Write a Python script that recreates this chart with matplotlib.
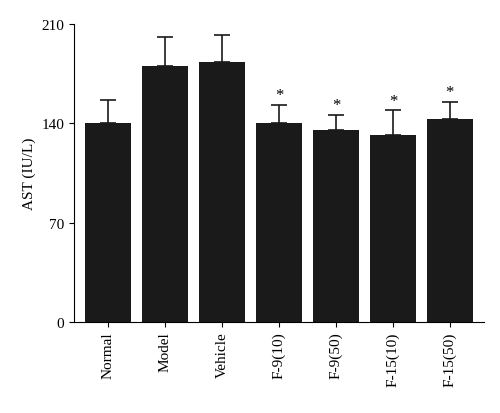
import matplotlib.pyplot as plt
import numpy as np

plt.rcParams['font.family'] = ['Liberation Serif', 'DejaVu Serif']

groups = ["Normal", "Model", "Vehicle", "F-9(10)", "F-9(50)", "F-15(10)", "F-15(50)"]
ast_mean = [140, 180, 183, 140, 135, 132, 143]
ast_err = [16, 21, 19, 13, 11, 17, 12]
significant = [False, False, False, True, True, True, True]

fig = plt.figure(figsize=(5.0, 4.14), dpi=100)
ax = fig.add_axes([0.148, 0.22, 0.82, 0.72])

x = np.arange(len(groups))
ax.bar(x, ast_mean, width=0.8, color="#1a1a1a", yerr=[np.zeros(len(x)), ast_err],
       error_kw=dict(ecolor="#1a1a1a", elinewidth=1.2, capsize=6, capthick=1.2))
for xi, m, e, s in zip(x, ast_mean, ast_err, significant):
    if s:
        ax.text(xi, m + e + 1, "*", ha="center", va="bottom", fontsize=12)

ax.set_xlim(-0.6, len(groups) - 0.4)
ax.set_ylim(0, 210)
ax.set_yticks([0, 70, 140, 210])
ax.set_xticks(x)
ax.set_xticklabels(groups, rotation=90, fontsize=11)
ax.tick_params(axis="y", labelsize=11, direction="out")
ax.set_ylabel("AST (IU/L)", fontsize=11)
ax.spines["top"].set_visible(False)
ax.spines["right"].set_visible(False)

fig.savefig("out.png", dpi=100)
